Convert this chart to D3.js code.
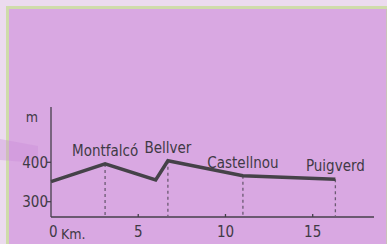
<!DOCTYPE html>
<html>
<head>
<meta charset="utf-8">
<script src="https://cdn.jsdelivr.net/npm/d3@7"></script>
<style>
  body { margin: 0; background: #ecdbef; }
  svg { display: block; }
  text { font-family: "DejaVu Sans Condensed", "DejaVu Sans", sans-serif; font-stretch: condensed; fill: #3f3a45; }
</style>
</head>
<body>
<script>
//profile data
var km = [0, 3.1, 6.0, 6.7, 11.0, 16.3];
var elevation = [351, 396, 355, 404, 366, 357];
var places = ["Montfalcó", "Bellver", "Castellnou", "Puigverd"];
var placeIndex = [1, 3, 4, 5];
var kmTicks = [0, 5, 10, 15];
var kmLabels = ["0", "5", "10", "15"];
var mTicks = [300, 400];

var w = 387, h = 244;

var svg = d3.select("body").append("svg")
    .attr("width", w)
    .attr("height", h);

//panel with green border
svg.append("rect")
    .attr("x", 7.5).attr("y", 7.5)
    .attr("width", 384).attr("height", 245)
    .style("fill", "#d9a8e2")
    .style("stroke", "#cfdcaa")
    .style("stroke-width", 3);

svg.append("line")
    .attr("x1", 386.5).attr("x2", 386.5)
    .attr("y1", 9).attr("y2", 244)
    .style("stroke", "#c9c0b8");

//faint band on the left
svg.append("polygon")
    .attr("points", "0,139 38,146 38,163 0,160")
    .style("fill", "#c98ad6")
    .style("opacity", 0.35);

var x = d3.scaleLinear().domain([0, 15]).range([51, 312.7]);
var y = d3.scaleLinear().domain([300, 400]).range([201.7, 162.3]);

var axisColor = "#443f4a";

//axes lines
svg.append("line")
    .attr("x1", 51).attr("x2", 51)
    .attr("y1", 107).attr("y2", 217)
    .style("stroke", axisColor).style("stroke-width", 1.3);
svg.append("line")
    .attr("x1", 51).attr("x2", 374)
    .attr("y1", 217).attr("y2", 217)
    .style("stroke", axisColor).style("stroke-width", 1.3);

//x ticks
svg.selectAll(".xtick")
    .data(kmTicks.slice(1))
    .enter().append("line")
    .attr("class", "xtick")
    .attr("x1", function(d){ return x(d); })
    .attr("x2", function(d){ return x(d); })
    .attr("y1", 214).attr("y2", 217)
    .style("stroke", axisColor).style("stroke-width", 1.3);

svg.selectAll(".xlabel")
    .data(kmTicks)
    .enter().append("text")
    .attr("class", "xlabel")
    .attr("x", function(d){ return x(d); })
    .attr("y", 237)
    .attr("text-anchor", function(d){ return d === 0 ? "start" : "middle"; })
    .attr("dx", function(d){ return d === 0 ? -2 : 0; })
    .style("font-size", "15px")
    .text(function(d, i){ return kmLabels[i]; });

svg.append("text")
    .attr("x", 61).attr("y", 239)
    .style("font-size", "14px")
    .text("Km.");

//y ticks
svg.selectAll(".ytick")
    .data(mTicks)
    .enter().append("line")
    .attr("class", "ytick")
    .attr("x1", 47).attr("x2", 51)
    .attr("y1", function(d){ return y(d); })
    .attr("y2", function(d){ return y(d); })
    .style("stroke", axisColor).style("stroke-width", 1.3);

svg.selectAll(".ylabel")
    .data(mTicks)
    .enter().append("text")
    .attr("class", "ylabel")
    .attr("x", 48)
    .attr("y", function(d){ return y(d); })
    .attr("dy", "0.36em")
    .attr("text-anchor", "end")
    .style("font-size", "15px")
    .text(function(d){ return d; });

svg.append("text")
    .attr("x", 32).attr("y", 122)
    .attr("text-anchor", "middle")
    .style("font-size", "14px")
    .text("m");

//dashed drop lines
svg.selectAll(".drop")
    .data(placeIndex)
    .enter().append("line")
    .attr("class", "drop")
    .attr("x1", function(d){ return x(km[d]); })
    .attr("x2", function(d){ return x(km[d]); })
    .attr("y1", function(d){ return y(elevation[d]); })
    .attr("y2", 217)
    .style("stroke", "#6b5a72")
    .style("stroke-width", 1.3)
    .style("stroke-dasharray", "3,3");

//profile line
var line = d3.line()
    .x(function(d){ return x(d[0]); })
    .y(function(d){ return y(d[1]); });

svg.append("path")
    .datum(d3.zip(km, elevation))
    .attr("d", line)
    .style("fill", "none")
    .style("stroke", "#454248")
    .style("stroke-width", 3.5)
    .style("stroke-linejoin", "miter");

//place names
svg.selectAll(".place")
    .data(placeIndex)
    .enter().append("text")
    .attr("class", "place")
    .attr("x", function(d){ return x(km[d]); })
    .attr("y", function(d){ return y(elevation[d]) - 8; })
    .attr("text-anchor", "middle")
    .style("font-size", "15px")
    .text(function(d, i){ return places[i]; });
</script>
</body>
</html>
